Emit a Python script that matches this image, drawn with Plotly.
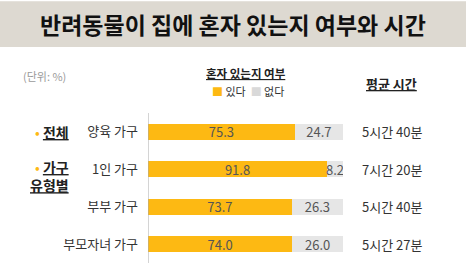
import plotly.graph_objects as go

# ---- data ----
categories = ["양육 가구", "1인 가구", "부부 가구", "부모자녀 가구"]
yes_vals = [75.3, 91.8, 73.7, 74.0]
no_vals = [24.7, 8.2, 26.3, 26.0]
avg_time = ["5시간 40분", "7시간 20분", "5시간 40분", "5시간 27분"]
series_names = ["있다", "없다"]

W, H = 466, 275
L, R = 148, 343          # plot area x pixels
T, B = 112.5, 263.5      # plot area y pixels
FONT = "Noto Sans CJK KR"
YEL = "#FDB913"
GRY = "#E6E6E6"

def px(x):
    return (x - L) / (R - L)

def py(y):
    return (B - y) / (B - T)

fig = go.Figure()
fig.add_trace(go.Bar(
    y=categories, x=yes_vals, orientation="h", name=series_names[0],
    marker=dict(color=YEL, line=dict(width=0)),
    text=[f"{v:.1f}" for v in yes_vals], textposition="inside",
    insidetextanchor="middle", textangle=0, constraintext="none",
    textfont=dict(family=FONT, size=13, color="#555555"),
))
fig.add_trace(go.Bar(
    y=categories, x=no_vals, orientation="h", name=series_names[1],
    marker=dict(color=GRY, line=dict(width=0)),
    text=[f"{v:.1f}" for v in no_vals], textposition="inside",
    insidetextanchor="middle", textangle=0, constraintext="none",
    textfont=dict(family=FONT, size=13, color="#555555"),
))

shapes = [
    # title band
    dict(type="rect", xref="paper", yref="paper", x0=px(0), x1=px(W), y0=py(46), y1=py(0),
         fillcolor="#DDD9D1", line=dict(width=0), layer="below"),
    # vertical lines
    dict(type="line", xref="x", yref="paper", x0=0, x1=0, y0=0, y1=1,
         line=dict(color="#AAAAAA", width=1)),
    dict(type="line", xref="x", yref="paper", x0=100.5, x1=100.5, y0=0, y1=1,
         line=dict(color="#AAAAAA", width=1)),
]

ann = []
ann.append(dict(text="<b>반려동물이 집에 혼자 있는지 여부와 시간</b>", xref="paper", yref="paper",
                x=px(233), y=py(23), xanchor="center", yanchor="middle", showarrow=False,
                font=dict(family=FONT, size=23, color="#111111", weight=900)))
ann.append(dict(text="(단위: %)", xref="paper", yref="paper", x=px(21), y=py(75),
                xanchor="left", yanchor="middle", showarrow=False,
                font=dict(family=FONT, size=11, color="#9A9A9A")))
ann.append(dict(text="<b><u>혼자 있는지 여부</u></b>", xref="paper", yref="paper", x=px(246), y=py(72),
                xanchor="center", yanchor="middle", showarrow=False,
                font=dict(family=FONT, size=11.5, color="#222222")))
ann.append(dict(text=f"<span style='color:{YEL}'>■</span> {series_names[0]}  "
                     f"<span style='color:#D9D9D9'>■</span> {series_names[1]}",
                xref="paper", yref="paper", x=px(210), y=py(90),
                xanchor="left", yanchor="middle", showarrow=False,
                font=dict(family=FONT, size=11, color="#333333")))
ann.append(dict(text="<b><u>평균 시간</u></b>", xref="paper", yref="paper", x=px(391), y=py(83),
                xanchor="center", yanchor="middle", showarrow=False,
                font=dict(family=FONT, size=13, color="#222222")))
ann.append(dict(text=f"<span style='color:{YEL}'>•</span> <b><u>전체</u></b>", xref="paper", yref="y",
                x=px(71), y=categories[0], xanchor="right", yanchor="middle", showarrow=False,
                font=dict(family=FONT, size=14, color="#222222")))
ann.append(dict(text=f"<span style='color:{YEL}'>•</span> <b><u>가구</u></b><br><b><u>유형별</u></b>",
                xref="paper", yref="y", x=px(71), y=categories[1], yshift=-7, align="right",
                xanchor="right", yanchor="middle", showarrow=False,
                font=dict(family=FONT, size=14, color="#222222")))
for c, t in zip(categories, avg_time):
    ann.append(dict(text=t, xref="paper", yref="y", x=px(360), y=c, xanchor="left",
                    yanchor="middle", showarrow=False,
                    font=dict(family=FONT, size=13, color="#333333")))

fig.update_layout(
    width=W, height=H, barmode="stack", bargap=0.57,
    margin=dict(l=L, r=W - R, t=T, b=H - B, pad=0),
    paper_bgcolor="white", plot_bgcolor="white", showlegend=False,
    shapes=shapes, annotations=ann,
    xaxis=dict(range=[0, 100], visible=False, fixedrange=True),
    yaxis=dict(autorange="reversed", showgrid=False, zeroline=False, showline=False,
               ticks="", ticklabelstandoff=9,
               tickfont=dict(family=FONT, size=13, color="#333333")),
    font=dict(family=FONT),
)
fig.write_html("out.html", config={"displayModeBar": False})
